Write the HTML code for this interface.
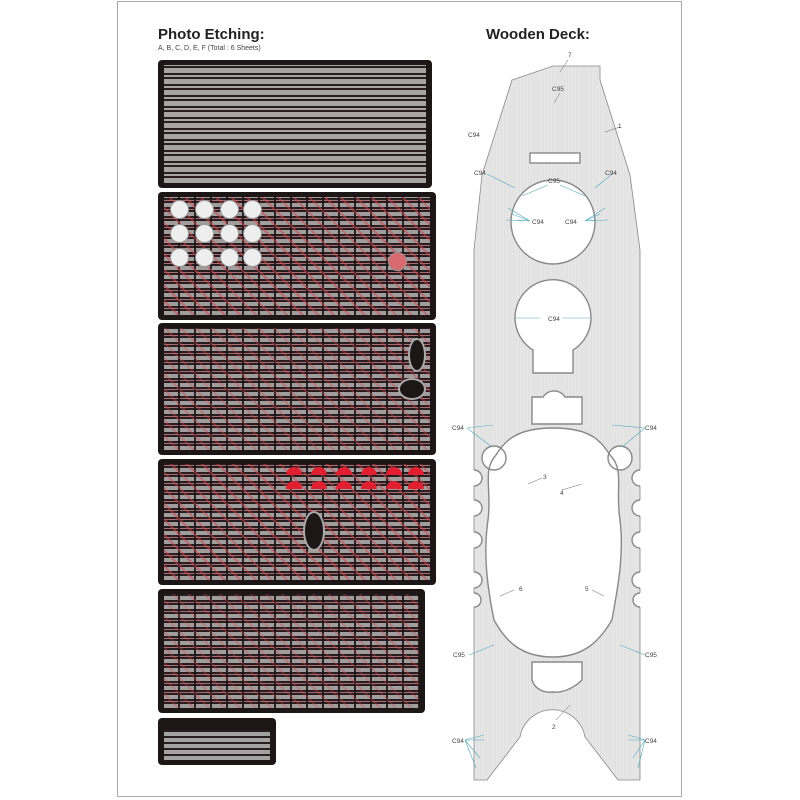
<!DOCTYPE html>
<html><head><meta charset="utf-8"><style>
body{margin:0;width:800px;height:800px;background:#fff;position:relative;overflow:hidden;font-family:"Liberation Sans",sans-serif}
.frame{position:absolute;left:117px;top:1px;width:565px;height:796px;border:1px solid #aaa;box-sizing:border-box}
.t{position:absolute;font-weight:bold;font-size:15px;color:#222}
.sub{position:absolute;left:158px;top:45px;font-size:7px;color:#444}
.p{position:absolute;background:#1d1617;border-radius:4px;overflow:hidden}
.p .g{position:absolute;left:6px;right:6px;top:5px;bottom:5px;
background:
repeating-linear-gradient(90deg,rgba(29,22,23,0) 0 14px,rgba(29,22,23,.9) 14px 16px),
repeating-linear-gradient(0deg,#b9b5b5 0 4px,#2a1f20 4px 6px,#c97c80 6px 7px,#2a1f20 7px 9px);opacity:.85}
.p .r{position:absolute;left:6px;right:6px;top:5px;bottom:5px;
background:repeating-linear-gradient(45deg,rgba(200,70,80,.0) 0 9px,rgba(200,70,80,.55) 9px 11px)}
.c{position:absolute;width:17px;height:17px;border-radius:50%;background:#eee;border:1px solid #999}
.d{position:absolute;background:#1d1617;border:2px solid #aaa;border-radius:50%}
.f{position:absolute;width:16px;height:8px;background:#e02030;border-radius:8px 8px 0 0}
</style></head><body>
<div class="frame"></div>
<div class="t" style="left:158px;top:26px">Photo Etching:</div>
<div class="sub">A, B, C, D, E, F (Total : 6 Sheets)</div>
<div class="t" style="left:486px;top:26px">Wooden Deck:</div>

<div class="p" style="left:158px;top:60px;width:274px;height:128px"><div class="g" style="background:repeating-linear-gradient(0deg,#b8b4b4 0 5px,#2a1f20 5px 7px,#b8b4b4 7px 9px,#2a1f20 9px 11px);opacity:.9"></div></div>
<div class="p" style="left:158px;top:192px;width:278px;height:128px"><div class="g"></div><div class="r"></div>
<div class="c" style="left:12px;top:8px"></div><div class="c" style="left:37px;top:8px"></div><div class="c" style="left:62px;top:8px"></div><div class="c" style="left:85px;top:8px"></div>
<div class="c" style="left:12px;top:32px"></div><div class="c" style="left:37px;top:32px"></div><div class="c" style="left:62px;top:32px"></div><div class="c" style="left:85px;top:32px"></div>
<div class="c" style="left:12px;top:56px"></div><div class="c" style="left:37px;top:56px"></div><div class="c" style="left:62px;top:56px"></div><div class="c" style="left:85px;top:56px"></div>
<div class="c" style="left:230px;top:60px;background:#d86a70"></div></div>
<div class="p" style="left:158px;top:323px;width:278px;height:132px"><div class="g"></div><div class="r" style="opacity:.7"></div>
<div class="d" style="left:250px;top:15px;width:14px;height:30px"></div><div class="d" style="left:240px;top:55px;width:24px;height:18px"></div></div>
<div class="p" style="left:158px;top:459px;width:278px;height:126px"><div class="g"></div><div class="r"></div>
<div class="f" style="left:128px;top:8px"></div><div class="f" style="left:153px;top:8px"></div><div class="f" style="left:178px;top:8px"></div><div class="f" style="left:203px;top:8px"></div><div class="f" style="left:228px;top:8px"></div><div class="f" style="left:250px;top:8px"></div>
<div class="f" style="left:128px;top:22px"></div><div class="f" style="left:153px;top:22px"></div><div class="f" style="left:178px;top:22px"></div><div class="f" style="left:203px;top:22px"></div><div class="f" style="left:228px;top:22px"></div><div class="f" style="left:250px;top:22px"></div>
<div class="d" style="left:145px;top:52px;width:18px;height:36px"></div></div>
<div class="p" style="left:158px;top:589px;width:267px;height:124px"><div class="g"></div><div class="r" style="opacity:.6"></div></div>
<div class="p" style="left:158px;top:718px;width:118px;height:47px"><div class="g" style="top:12px;background:repeating-linear-gradient(0deg,#bbb 0 4px,#2a1f20 4px 6px)"></div></div>

<svg width="800" height="800" style="position:absolute;left:0;top:0" font-family="Liberation Sans" font-size="6.5" fill="#444">
<defs>
<pattern id="pl" width="3" height="6" patternUnits="userSpaceOnUse"><rect width="3" height="6" fill="#e6e6e6"/><rect width="0.5" height="6" fill="#dadada"/></pattern>
<path id="hull" d="M512,80 L553,66 L600,66 L600,80 L630,175 L640,250 L640,780 L618,780 L585,737 A33,33 0 0 0 520,737 L487,780 L474,780 L474,250 L482,175 Z"/>
<g id="cuts">
<rect x="530" y="153" width="50" height="10"/>
<circle cx="553" cy="222" r="42"/>
<path d="M533,373 L533,350 A38,38 0 1 1 573,350 L573,373 Z"/>
<path d="M532,424 L532,397 L543,397 A13,13 0 0 1 565,397 L582,397 L582,424 Z"/>
<path d="M553,428 C590,428 600,440 610,455 C625,470 615,490 620,520 C625,560 615,600 612,620 C600,640 585,657 553,657 C520,657 505,640 494,620 C490,600 482,560 488,520 C492,490 482,470 496,455 C505,440 518,428 553,428 Z"/>
<circle cx="494" cy="458" r="12"/><circle cx="620" cy="458" r="12"/>
<circle cx="474" cy="478" r="8"/><circle cx="474" cy="508" r="8"/><circle cx="474" cy="540" r="8"/><circle cx="474" cy="580" r="8"/><circle cx="474" cy="600" r="7"/>
<circle cx="640" cy="478" r="8"/><circle cx="640" cy="508" r="8"/><circle cx="640" cy="540" r="8"/><circle cx="640" cy="580" r="8"/><circle cx="640" cy="600" r="7"/>
<path d="M532,662 L582,662 L582,680 C572,690 560,693 553,692 C545,693 535,690 532,680 Z"/>
</g>
<mask id="m"><rect width="800" height="800" fill="#fff"/><use href="#cuts" fill="#000"/></mask>
<clipPath id="hc"><use href="#hull"/></clipPath>
</defs>
<g mask="url(#m)"><use href="#hull" fill="url(#pl)" stroke="#888" stroke-width="0.8"/></g>
<g clip-path="url(#hc)"><use href="#cuts" fill="none" stroke="#888" stroke-width="1.4"/></g>
<g stroke="#5ab" stroke-width="0.6" fill="none">
<line x1="487" y1="174" x2="515" y2="188"/><line x1="548" y1="185" x2="522" y2="196"/><line x1="560" y1="185" x2="585" y2="196"/><line x1="612" y1="174" x2="595" y2="188"/>
<path d="M530,221 L508,208 M530,221 L512,214 M530,221 L518,220 M530,221 L506,220"/>
<path d="M585,221 L605,208 M585,221 L600,214 M585,221 L595,220 M585,221 L608,220"/>
<line x1="540" y1="318" x2="515" y2="318"/><line x1="562" y1="318" x2="590" y2="318"/>
<path d="M467,428 L493,425 M467,428 L492,447"/><path d="M645,428 L612,425 M645,428 L622,447"/>
<line x1="469" y1="655" x2="494" y2="645"/><line x1="645" y1="655" x2="620" y2="645"/>
<path d="M465,740 L484,735 M465,740 L484,740 M465,740 L480,758 M465,740 L476,768"/>
<path d="M645,740 L628,735 M645,740 L628,740 M645,740 L633,758 M645,740 L638,768"/>
</g>
<g stroke="#666" stroke-width="0.5"><line x1="568" y1="60" x2="560" y2="72"/><line x1="620" y1="127" x2="605" y2="132"/><line x1="560" y1="93" x2="554" y2="103"/>
<line x1="542" y1="478" x2="528" y2="484"/><line x1="562" y1="490" x2="582" y2="484"/><line x1="514" y1="590" x2="500" y2="596"/><line x1="592" y1="590" x2="604" y2="596"/><line x1="556" y1="720" x2="570" y2="705"/></g>
<text x="568" y="57">7</text><text x="552" y="91">C95</text><text x="468" y="137">C94</text><text x="618" y="128">1</text>
<text x="474" y="175">C94</text><text x="548" y="183">C95</text><text x="605" y="175">C94</text>
<text x="532" y="224">C94</text><text x="565" y="224">C94</text><text x="548" y="321">C94</text>
<text x="452" y="430">C94</text><text x="645" y="430">C94</text>
<text x="543" y="479">3</text><text x="560" y="495">4</text><text x="519" y="591">6</text><text x="585" y="591">5</text>
<text x="453" y="657">C95</text><text x="645" y="657">C95</text><text x="552" y="729">2</text>
<text x="452" y="743">C94</text><text x="645" y="743">C94</text>
</svg>
</body></html>
